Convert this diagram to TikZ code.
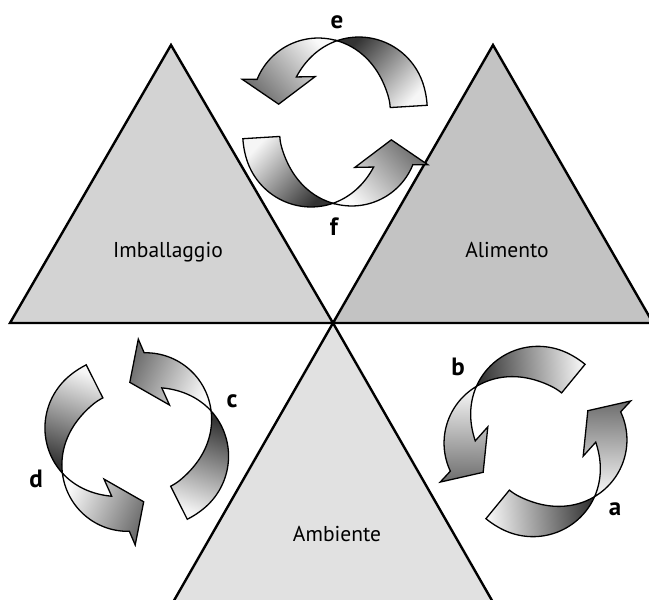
\documentclass[tikz,border=0pt]{standalone}
\usepackage{fontspec}
\setmainfont{PT Sans}
\definecolor{triL}{HTML}{D3D3D3}
\definecolor{triR}{HTML}{C3C3C3}
\definecolor{triB}{HTML}{E1E1E1}
\definecolor{taildark}{HTML}{333333}
\definecolor{taillight}{HTML}{F6F6F6}
\definecolor{headdark}{HTML}{6E6E6E}
\definecolor{headlight}{HTML}{FAFAFA}
\tikzset{
  tri/.style={draw=black, line width=2.4, line join=miter},
  rib/.style={draw=black, line width=1.3, line join=miter},
  lbl/.style={font=\fontsize{21.5}{24}\selectfont, inner sep=0pt, anchor=base},
  let/.style={font=\bfseries\fontsize{25}{28}\selectfont, inner sep=0pt, anchor=base},
}
% #1 cx, #2 cy, #3 crossing angle (image coords, y down)
\newcommand{\ribarrow}[3]{%
  \pgfmathsetmacro{\sta}{-(#3+44)}%
  \pgfmathsetmacro{\sha}{41-(#3)}%
  % tail part
  \path[rib, top color=taildark, bottom color=taillight, shading angle=\sta]
    plot[variable=\myd, domain=-88:0, samples=50]
      ({#1+(70+18.5*sin(min(90,90*abs(\myd)/75)))*cos(#3-(\myd))},
       {#2+(70+18.5*sin(min(90,90*abs(\myd)/75)))*sin(#3-(\myd))})
    -- plot[variable=\myd, domain=0:-88, samples=50]
      ({#1+(70-18.5*sin(min(90,90*abs(\myd)/75)))*cos(#3-(\myd))},
       {#2+(70-18.5*sin(min(90,90*abs(\myd)/75)))*sin(#3-(\myd))})
    -- cycle;
  % head part
  \path[rib, top color=headdark, bottom color=headlight, shading angle=\sha]
    plot[variable=\myd, domain=0:50, samples=40]
      ({#1+(70-17.5*sin(min(90,90*\myd/70)))*cos(#3-(\myd))},
       {#2+(70-17.5*sin(min(90,90*\myd/70)))*sin(#3-(\myd))})
    -- ({#1+41.5*cos(#3-33.3)},{#2+41.5*sin(#3-33.3)})
    -- ({#1+60.5*cos(#3-82.3)},{#2+60.5*sin(#3-82.3)})
    -- ({#1+101.5*cos(#3-70.5)},{#2+101.5*sin(#3-70.5)})
    -- plot[variable=\myd, domain=67.5:0, samples=50]
      ({#1+(70+17.5*sin(min(90,90*\myd/70)))*cos(#3-(\myd))},
       {#2+(70+17.5*sin(min(90,90*\myd/70)))*sin(#3-(\myd))})
    -- cycle;
}
\begin{document}
\begin{tikzpicture}[x=1pt, y=-1pt]
  \useasboundingbox (0,0) rectangle (649,600);
  \clip (0,0) rectangle (649,600);
  % triangles
  \path[tri, fill=triL] (10,323) -- (171,45) -- (333,323) -- cycle;
  \path[tri, fill=triR] (333,323) -- (493,45) -- (653,323) -- cycle;
  \path[tri, fill=triB] (333,323) -- (172,604) -- (494,604) -- cycle;
  % curved ribbon arrows
  \ribarrow{338.8}{110.7}{-91.5}% e
  \ribarrow{331.2}{133.3}{88.5}%  f
  \ribarrow{147.5}{440.2}{-24.7}% c
  \ribarrow{126}{443.9}{155.3}%   d
  \ribarrow{528.9}{432.7}{-138.6}% b
  \ribarrow{542.1}{450.3}{41.4}%  a
  % texts
  \node[lbl] (imb) at (168,257) {Imballaggio};
  \node[lbl] (ali) at (507,257) {Alimento};
  \node[lbl] (amb) at (337,541) {Ambiente};
  \node[let] (le) at (337,28) {e};
  \node[let] (lf) at (334,235) {f};
  \node[let] (lc) at (232,407) {c};
  \node[let] (ld) at (36,487) {d};
  \node[let] (lb) at (458,375) {b};
  \node[let] (la) at (615,515) {a};
\end{tikzpicture}
\end{document}
